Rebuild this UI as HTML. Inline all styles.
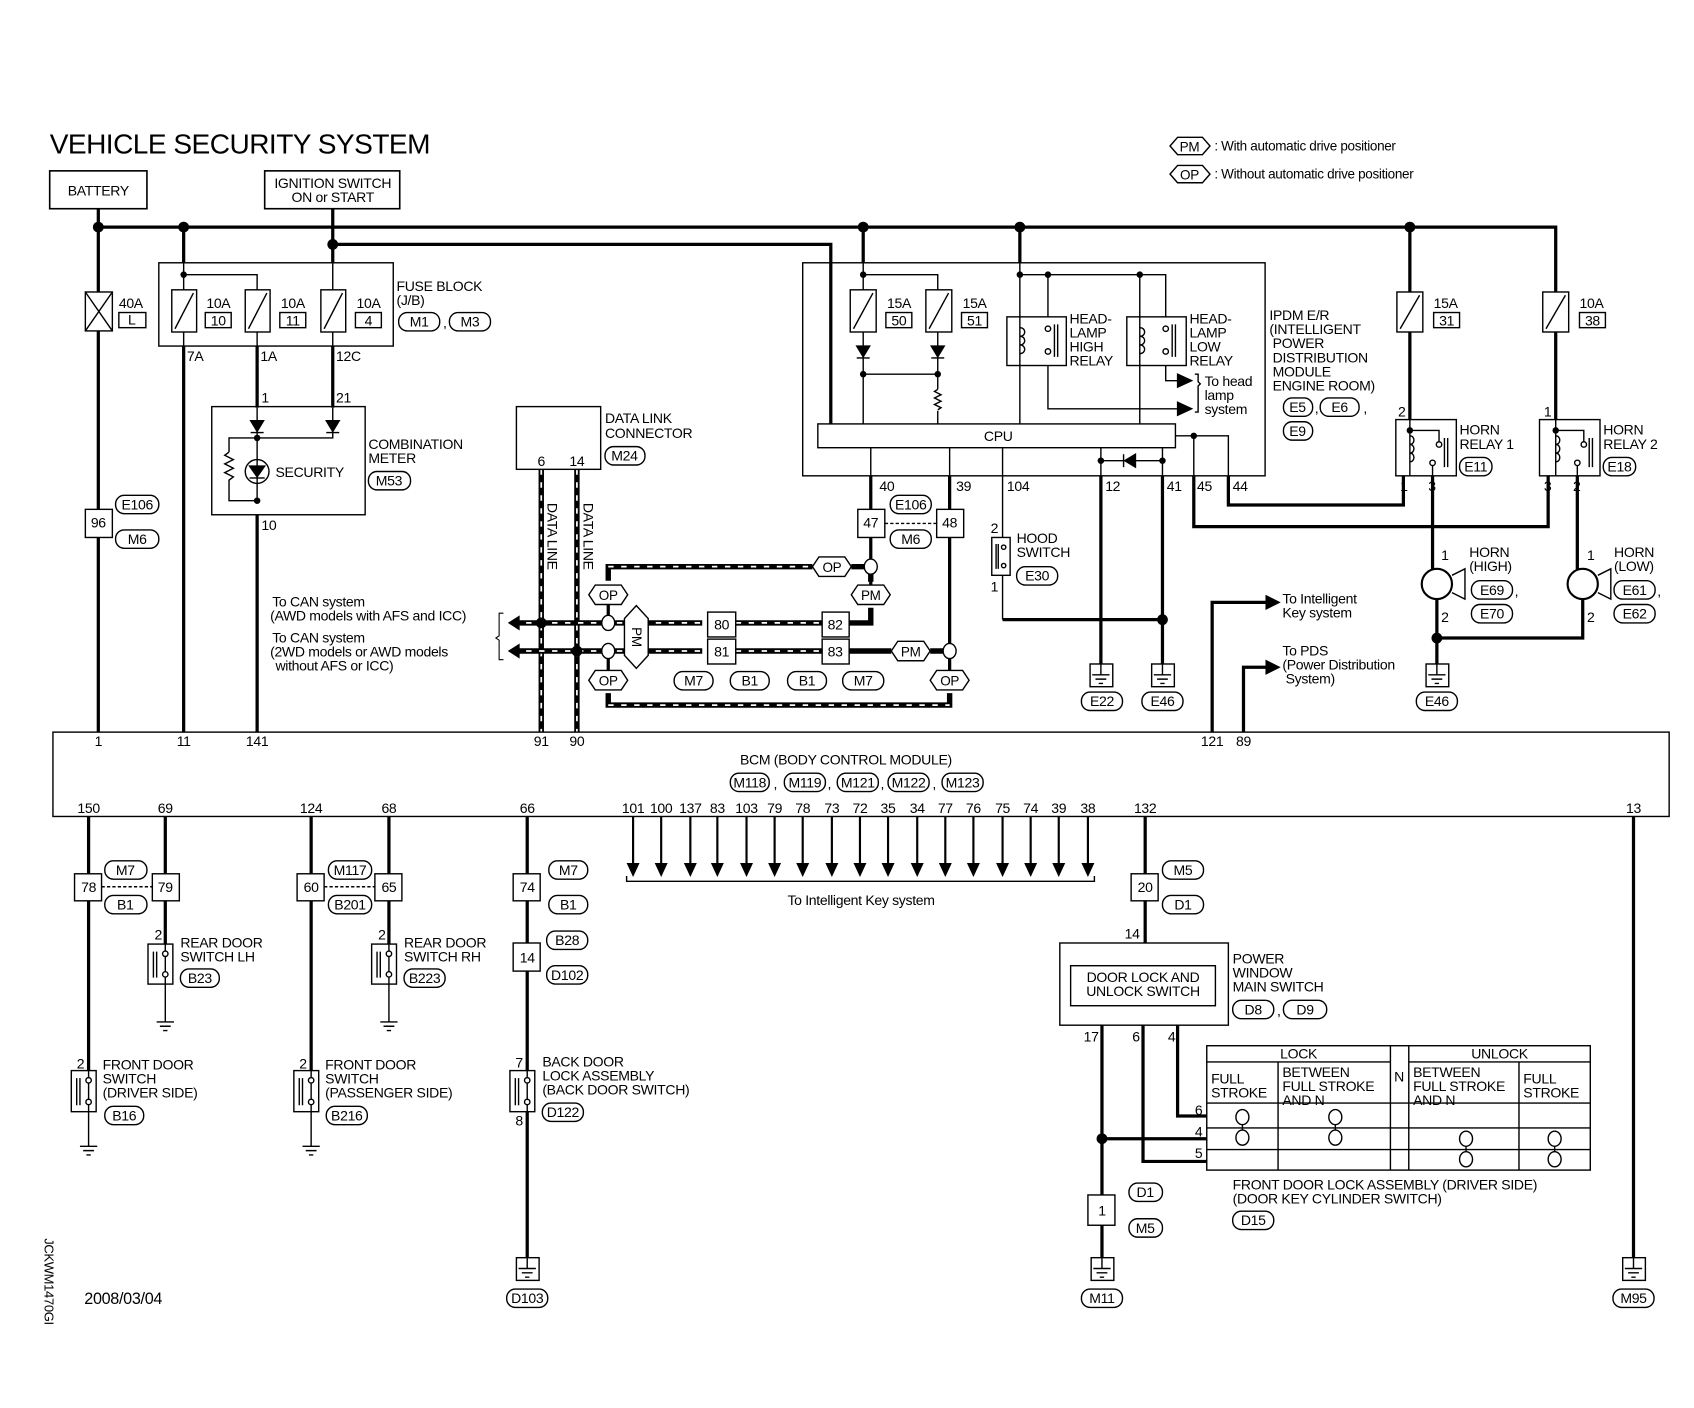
<!DOCTYPE html>
<html><head><meta charset="utf-8"><style>
html,body{margin:0;padding:0;background:#fff;}
svg{display:block}
text{font-family:"Liberation Sans",sans-serif;font-size:13px;fill:#000;letter-spacing:-0.3px}
.t{font-size:12.5px}
.m{text-anchor:middle}
</style></head><body>
<svg width="1694" height="1408" viewBox="0 0 1568 1302" preserveAspectRatio="none" xmlns="http://www.w3.org/2000/svg">
<text x="46" y="142" style="font-size:26px;letter-spacing:-0.5px">VEHICLE SECURITY SYSTEM</text>
<g fill="none" stroke="#000" stroke-width="1.3">
<polygon points="1083,135 1090,127 1113,127 1120,135 1113,143 1090,143"/>
<polygon points="1083,161 1090,153 1113,153 1120,161 1113,169 1090,169"/>
</g>
<text x="1101" y="140" class="m t">PM</text><text x="1124" y="139" class="t">: With automatic drive positioner</text>
<text x="1101" y="166" class="m t">OP</text><text x="1124" y="165" class="t">: Without automatic drive positioner</text>

<g fill="none" stroke="#000" stroke-width="1.5">
<rect x="46" y="158" width="90" height="35"/>
<rect x="245" y="158" width="125" height="35"/>
</g>
<text x="91" y="181" class="m">BATTERY</text>
<text x="308" y="174" class="m">IGNITION SWITCH</text>
<text x="308" y="187" class="m">ON or START</text>

<g fill="none" stroke="#000" stroke-width="3">
<path d="M91,193 V677"/>
<path d="M91,210 H1440 V270"/>
<path d="M308,193 V243"/>
<path d="M308,226 H769 V392"/>
<path d="M170,210 V243"/>
<path d="M170,320 V677"/>
<path d="M238,320 V377"/>
<path d="M308,320 V377"/>
<path d="M238,476 V677"/>
<path d="M799,210 V243"/>
<path d="M944,210 V243"/>
<path d="M1305,210 V270"/>
<path d="M1305,307 V388"/>
<path d="M1440,307 V388"/>
<path d="M1137,440 V467 H1299 V440"/>
<path d="M1105,440 V487 H1433 V440"/>
<path d="M1326,440 V527"/>
<path d="M1460,440 V527"/>
<path d="M1330,553 V614"/>
<path d="M1465,553 V590 H1330"/>
<path d="M1019,440 V614"/>
<path d="M1076,440 V614"/>
<path d="M928,573 H1076"/>
<path d="M1122,677 V557 H1172"/>
<path d="M1151,677 V617 H1172"/>
<path d="M82,755 V990"/>
<path d="M153,755 V873"/>
<path d="M288,755 V990"/>
<path d="M360,755 V873"/>
<path d="M488,755 V990"/>
<path d="M488,1028 V1163"/>
<path d="M1060,755 V872"/>
<path d="M1020,948 V1163"/>
<path d="M1058,948 V1074 H1117"/>
<path d="M1090,948 V1032 H1117"/>
<path d="M1020,1053 H1117"/>
<path d="M1512,755 V1163"/>
<path d="M806,440 V524"/>
<path d="M879,440 V602"/>
</g>

<g fill="none" stroke-width="5">
<path d="M501,434 V677 M534,434 V677" stroke="#000"/>
<path d="M501,434 V677 M534,434 V677" stroke="#fff" stroke-width="1.6" stroke-dasharray="5,7"/>
<path d="M475,576 H650 M681,576 H761 M786,576 H806 V562 M806,538 V530" stroke="#000"/>
<path d="M475,602 H650 M681,602 H761 M786,602 H825 M861,602 H873" stroke="#000"/>
<path d="M563,537 V524 H752 M788,524 H800 M563,641 V652 H879 V641" stroke="#000"/>
<g stroke="#fff" stroke-width="1.6" stroke-dasharray="5,7">
<path d="M475,576 H650 M681,576 H761 M563,524 H752 M563,652 H879 M475,602 H650 M681,602 H761"/>
</g>
</g>
<g fill="#000">
<polygon points="470,576 481,569 481,583"/>
<polygon points="470,602 481,595 481,609"/>
</g>
<path d="M466,567 h-4 v21 l-3,2 l3,2 v18 h4" fill="none" stroke="#000" stroke-width="1"/>

<g fill="#000">
<circle cx="91" cy="210" r="5"/><circle cx="170" cy="210" r="5"/><circle cx="308" cy="226" r="5"/>
<circle cx="799" cy="210" r="5"/><circle cx="944" cy="210" r="5"/><circle cx="1305" cy="210" r="5"/>
<circle cx="501" cy="576" r="5"/><circle cx="534" cy="602" r="5"/>
<circle cx="1076" cy="573" r="5"/><circle cx="1330" cy="590" r="5"/><circle cx="1020" cy="1053" r="5"/>
<circle cx="170" cy="254" r="3"/><circle cx="238" cy="405" r="3"/><circle cx="238" cy="463" r="3"/>
<circle cx="799" cy="254" r="3"/><circle cx="799" cy="346" r="3"/><circle cx="868" cy="346" r="3"/>
<circle cx="944" cy="254" r="3"/><circle cx="970" cy="254" r="3"/><circle cx="1055" cy="254" r="3"/>
<circle cx="1019" cy="426" r="3"/><circle cx="1076" cy="426" r="3"/><circle cx="1105" cy="403" r="3"/>
<circle cx="1305" cy="398" r="3"/><circle cx="1440" cy="398" r="3"/>
</g>

<g fill="none" stroke="#000" stroke-width="1.3">
<rect x="79" y="270" width="25" height="36" fill="#fff"/><path d="M79,270 L104,306 M104,270 L79,306"/>
<rect x="110" y="289" width="25" height="14"/>
<rect x="147" y="243" width="217" height="77"/>
<path d="M170,254 H238 V268 M170,243 V268 M170,307 V320 M238,307 V320 M308,243 V268 M308,307 V320"/>
<rect x="159" y="268" width="23" height="39"/><path d="M162,304 L179,271"/>
<rect x="227" y="268" width="23" height="39"/><path d="M230,304 L247,271"/>
<rect x="297" y="268" width="23" height="39"/><path d="M300,304 L317,271"/>
<rect x="190" y="289" width="24" height="14"/><rect x="259" y="289" width="24" height="14"/><rect x="329" y="289" width="24" height="14"/>
<rect x="196" y="376" width="142" height="100"/>
<path d="M238,377 V463 M308,377 V405 H212 V418 M212,448 V463 H238"/>
<path d="M212,418 l-4,3 l8,4 l-8,4 l8,4 l-8,4 l8,4 l-4,3 V448"/>
<circle cx="238" cy="436" r="11"/>
<rect x="478" y="376" width="78" height="58"/>
<rect x="743" y="243" width="428" height="197"/>
<path d="M799,243 V268 M799,254 H868 V268 M799,307 V392 M868,307 V360 M868,380 V392 M799,346 H868"/>
<path d="M868,360 l-3,2 l6,3 l-6,3 l6,3 l-6,3 l6,3 l-3,2"/>
<rect x="787" y="268" width="24" height="39"/><path d="M790,304 L808,271"/>
<rect x="857" y="268" width="24" height="39"/><path d="M860,304 L878,271"/>
<rect x="820" y="289" width="24" height="14"/><rect x="890" y="289" width="24" height="14"/>
<path d="M944,243 V392 M944,254 H1079 V293 M970,254 V293 M970,338 V378 H1090 M1055,254 V392 M1079,338 V352 H1090"/>
<rect x="932" y="293" width="55" height="45"/><rect x="1043" y="293" width="55" height="45"/>
<path d="M944,303 c6,0 6,8 0,8 c6,0 6,8 0,8 c6,0 6,8 0,8"/>
<path d="M1055,303 c6,0 6,8 0,8 c6,0 6,8 0,8 c6,0 6,8 0,8"/>
<circle cx="970" cy="304" r="2.5"/><circle cx="970" cy="325" r="2.5"/><path d="M976,300 V330 M979,300 V330"/>
<circle cx="1079" cy="304" r="2.5"/><circle cx="1079" cy="325" r="2.5"/><path d="M1085,300 V330 M1088,300 V330"/>
<path d="M1106,346 h3 v7 l2,2 l-2,2 v24 h-3"/>
<rect x="757" y="392" width="331" height="22" fill="#fff"/>
<path d="M806,414 V440 M879,414 V440 M928,414 V497 M1019,414 V440 M1076,414 V440 M1019,426 H1076 M1088,403 H1137 V440 M1105,403 V440"/>
<path d="M928,532 V573"/>
<rect x="918" y="497" width="17" height="35"/><path d="M922,503 V526 M924,503 V526"/><circle cx="929" cy="506" r="2"/><circle cx="929" cy="523" r="2"/>
<rect x="1292" y="388" width="56" height="52"/><rect x="1425" y="388" width="56" height="52"/>
<path d="M1305,388 V440 M1305,398 H1332 V408 M1326,440 V430"/>
<path d="M1440,388 V440 M1440,398 H1466 V408 M1460,440 V430"/>
<path d="M1305,403 c5,0 5,8 0,8 c5,0 5,8 0,8 c5,0 5,8 0,8"/>
<path d="M1440,403 c5,0 5,8 0,8 c5,0 5,8 0,8 c5,0 5,8 0,8"/>
<circle cx="1332" cy="411" r="2.5"/><circle cx="1326" cy="428" r="2.5"/><path d="M1337,405 V432 M1340,405 V432"/>
<circle cx="1466" cy="411" r="2.5"/><circle cx="1460" cy="428" r="2.5"/><path d="M1471,405 V432 M1474,405 V432"/>
<rect x="1293" y="270" width="24" height="37" fill="#fff"/><path d="M1296,304 L1314,273"/>
<rect x="1428" y="270" width="24" height="37" fill="#fff"/><path d="M1431,304 L1449,273"/>
<rect x="1327" y="289" width="24" height="14"/><rect x="1462" y="289" width="24" height="14"/>
<circle cx="1330" cy="540" r="14" stroke-width="2"/><path d="M1344,532 l12,-6 v28 l-12,-6"/>
<circle cx="1465" cy="540" r="14" stroke-width="2"/><path d="M1479,532 l12,-6 v28 l-12,-6"/>
<rect x="1009" y="614" width="21" height="21"/><path d="M1019,614 V624 M1011,624 H1027 M1014,628 H1024 M1017,632 H1021"/>
<rect x="1066" y="614" width="21" height="21"/><path d="M1076,614 V624 M1068,624 H1084 M1071,628 H1081 M1074,632 H1078"/>
<rect x="1320" y="614" width="21" height="21"/><path d="M1330,614 V624 M1322,624 H1338 M1325,628 H1335 M1328,632 H1332"/>
<rect x="478" y="1163" width="21" height="21"/><path d="M488,1163 V1173 M480,1173 H496 M483,1177 H493 M486,1181 H490"/>
<rect x="1010" y="1163" width="21" height="21"/><path d="M1020,1163 V1173 M1012,1173 H1028 M1015,1177 H1025 M1018,1181 H1022"/>
<rect x="1502" y="1163" width="21" height="21"/><path d="M1512,1163 V1173 M1504,1173 H1520 M1507,1177 H1517 M1510,1181 H1514"/>
<rect x="49" y="677" width="1496" height="78"/>
<path d="M580,810 v5 H1013 v-5"/>
<rect x="79" y="471" width="25" height="26" fill="#fff"/>
<rect x="794" y="471" width="25" height="26" fill="#fff"/><rect x="867" y="471" width="25" height="26" fill="#fff"/>
<path d="M819,484 H867" stroke-dasharray="3,2"/>
<rect x="655" y="566" width="26" height="23" fill="#fff"/><rect x="655" y="591" width="26" height="23" fill="#fff"/>
<rect x="761" y="566" width="25" height="23" fill="#fff"/><rect x="761" y="591" width="25" height="23" fill="#fff"/>
<rect x="69" y="808" width="25" height="25" fill="#fff"/><rect x="141" y="808" width="25" height="25" fill="#fff"/>
<path d="M94,820 H141" stroke-dasharray="3,2"/>
<rect x="275" y="808" width="25" height="25" fill="#fff"/><rect x="347" y="808" width="25" height="25" fill="#fff"/>
<path d="M300,820 H347" stroke-dasharray="3,2"/>
<rect x="475" y="808" width="25" height="25" fill="#fff"/><rect x="475" y="872" width="25" height="26" fill="#fff"/>
<rect x="1047" y="808" width="25" height="25" fill="#fff"/>
<rect x="1007" y="1105" width="25" height="28" fill="#fff"/>
<path d="M153,910 V945 M145,945 H161 M148,949 H158 M151,953 H155"/>
<path d="M360,910 V945 M352,945 H368 M355,949 H365 M358,953 H362"/>
<path d="M82,1028 V1060 M74,1060 H90 M77,1064 H87 M80,1068 H84"/>
<path d="M288,1028 V1060 M280,1060 H296 M283,1064 H293 M286,1068 H290"/>
<rect x="137" y="873" width="23" height="37"/><rect x="344" y="873" width="23" height="37"/>
<rect x="66" y="990" width="23" height="38"/><rect x="272" y="990" width="23" height="38"/><rect x="472" y="990" width="23" height="38"/>
<path d="M153,873 V910 M360,873 V910 M82,990 V1028 M288,990 V1028 M488,990 V1028"/>
<g fill="#fff">
<circle cx="153" cy="882" r="2.5"/><circle cx="153" cy="901" r="2.5"/>
<circle cx="360" cy="882" r="2.5"/><circle cx="360" cy="901" r="2.5"/>
<circle cx="82" cy="999" r="2.5"/><circle cx="82" cy="1019" r="2.5"/>
<circle cx="288" cy="999" r="2.5"/><circle cx="288" cy="1019" r="2.5"/>
<circle cx="488" cy="999" r="2.5"/><circle cx="488" cy="1019" r="2.5"/>
</g>
<path d="M142,880 V904 M145,880 V904 M349,880 V904 M352,880 V904 M71,997 V1022 M74,997 V1022 M277,997 V1022 M280,997 V1022 M477,997 V1022 M480,997 V1022"/>
<rect x="981" y="872" width="156" height="76"/><rect x="991" y="893" width="134" height="37"/>
<rect x="1117" y="967" width="355" height="115"/>
<path d="M1117,982 H1287 M1304,982 H1472 M1117,1020 H1472 M1117,1043 H1472 M1117,1063 H1472 M1183,982 V1082 M1287,967 V1082 M1304,967 V1082 M1406,982 V1082"/>
</g>
<g fill="none" stroke="#000" stroke-width="1.3">
<ellipse cx="1150" cy="1033" rx="6" ry="7"/><ellipse cx="1150" cy="1052" rx="6" ry="7"/><path d="M1150,1040 V1045"/>
<ellipse cx="1236" cy="1033" rx="6" ry="7"/><ellipse cx="1236" cy="1052" rx="6" ry="7"/><path d="M1236,1040 V1045"/>
<ellipse cx="1357" cy="1053" rx="6" ry="7"/><ellipse cx="1357" cy="1072" rx="6" ry="7"/><path d="M1357,1060 V1065"/>
<ellipse cx="1439" cy="1053" rx="6" ry="7"/><ellipse cx="1439" cy="1072" rx="6" ry="7"/><path d="M1439,1060 V1065"/>
</g>
<g fill="#000" stroke="#000" stroke-width="1.3">
<polygon points="232,389 244,389 238,399"/><path d="M232,400 H244"/>
<polygon points="302,389 314,389 308,399"/><path d="M302,400 H314"/>
<polygon points="231,431 245,431 238,441"/><path d="M231,442 H245"/>
<polygon points="793,320 805,320 799,330"/><path d="M793,331 H805"/>
<polygon points="862,320 874,320 868,330"/><path d="M862,331 H874"/>
<polygon points="1041,426 1051,420 1051,432"/><path d="M1040,420 V432"/>
<polygon points="1090,346 1103,352 1090,358"/><polygon points="1090,372 1103,378 1090,384"/>
<polygon points="1172,551 1184,557 1172,563"/><polygon points="1172,611 1184,617 1172,623"/>
</g>
<g stroke="#000" stroke-width="2" fill="#000">
<path d="M586,755 V800 M612,755 V800 M639,755 V800 M664,755 V800 M691,755 V800 M717,755 V800 M743,755 V800 M770,755 V800 M796,755 V800 M822,755 V800 M849,755 V800 M875,755 V800 M901,755 V800 M928,755 V800 M954,755 V800 M980,755 V800 M1007,755 V800"/>
</g>
<g fill="#000">
<polygon points="580,798 592,798 586,811"/><polygon points="606,798 618,798 612,811"/><polygon points="633,798 645,798 639,811"/><polygon points="658,798 670,798 664,811"/><polygon points="685,798 697,798 691,811"/><polygon points="711,798 723,798 717,811"/><polygon points="737,798 749,798 743,811"/><polygon points="764,798 776,798 770,811"/><polygon points="790,798 802,798 796,811"/><polygon points="816,798 828,798 822,811"/><polygon points="843,798 855,798 849,811"/><polygon points="869,798 881,798 875,811"/><polygon points="895,798 907,798 901,811"/><polygon points="922,798 934,798 928,811"/><polygon points="948,798 960,798 954,811"/><polygon points="974,798 986,798 980,811"/><polygon points="1001,798 1013,798 1007,811"/>
</g>

<g fill="#fff" stroke="#000" stroke-width="1.3">
<polygon points="752,524 758,515 782,515 788,524 782,533 758,533"/>
<polygon points="788,550 794,541 818,541 824,550 818,559 794,559"/>
<polygon points="545,550 551,541 575,541 581,550 575,559 551,559"/>
<polygon points="545,629 551,620 575,620 581,629 575,638 551,638"/>
<polygon points="825,602 831,593 855,593 861,602 855,611 831,611"/>
<polygon points="861,629 867,620 891,620 897,629 891,638 867,638"/>
<polygon points="589,560 600,572 600,606 589,618 578,606 578,572"/>
<ellipse cx="806" cy="524" rx="6" ry="7"/>
<ellipse cx="563" cy="576" rx="6" ry="7"/><ellipse cx="563" cy="602" rx="6" ry="7"/>
<ellipse cx="879" cy="602" rx="6" ry="7"/>
</g>
<g fill="none" stroke="#000" stroke-width="3"><path d="M563,559 V569 M563,609 V620 M879,609 V620 M806,531 V541"/></g>
<text x="770" y="529" class="m t">OP</text><text x="806" y="555" class="m t">PM</text>
<text x="563" y="555" class="m t">OP</text><text x="563" y="634" class="m t">OP</text>
<text x="843" y="607" class="m t">PM</text><text x="879" y="634" class="m t">OP</text>
<text x="0" y="0" class="m t" transform="translate(585,589) rotate(90)">PM</text>

<g fill="none" stroke="#000" stroke-width="1.3">
<rect x="369" y="289" width="38" height="17" rx="8"/><rect x="416" y="289" width="38" height="17" rx="8"/>
<rect x="341" y="436" width="39" height="17" rx="8"/><rect x="560" y="413" width="37" height="17" rx="8"/>
<rect x="107" y="458" width="40" height="17" rx="8"/><rect x="107" y="490" width="40" height="17" rx="8"/>
<rect x="824" y="458" width="38" height="17" rx="8"/><rect x="824" y="490" width="38" height="17" rx="8"/>
<rect x="624" y="621" width="36" height="17" rx="8"/><rect x="676" y="621" width="36" height="17" rx="8"/>
<rect x="729" y="621" width="36" height="17" rx="8"/><rect x="780" y="621" width="38" height="17" rx="8"/>
<rect x="1188" y="368" width="27" height="17" rx="8"/><rect x="1222" y="368" width="36" height="17" rx="8"/>
<rect x="1188" y="390" width="27" height="17" rx="8"/>
<rect x="941" y="524" width="38" height="17" rx="8"/>
<rect x="1351" y="423" width="30" height="17" rx="8"/><rect x="1484" y="423" width="30" height="17" rx="8"/>
<rect x="1362" y="537" width="38" height="17" rx="8"/><rect x="1362" y="559" width="38" height="17" rx="8"/>
<rect x="1494" y="537" width="38" height="17" rx="8"/><rect x="1494" y="559" width="38" height="17" rx="8"/>
<rect x="1001" y="640" width="38" height="17" rx="8"/><rect x="1057" y="640" width="38" height="17" rx="8"/>
<rect x="1311" y="640" width="38" height="17" rx="8"/>
<rect x="676" y="715" width="36" height="17" rx="8"/><rect x="726" y="715" width="38" height="17" rx="8"/>
<rect x="775" y="715" width="38" height="17" rx="8"/><rect x="822" y="715" width="38" height="17" rx="8"/>
<rect x="872" y="715" width="38" height="17" rx="8"/>
<rect x="97" y="796" width="39" height="17" rx="8"/><rect x="97" y="828" width="39" height="17" rx="8"/>
<rect x="304" y="796" width="40" height="17" rx="8"/><rect x="304" y="828" width="40" height="17" rx="8"/>
<rect x="508" y="796" width="36" height="17" rx="8"/><rect x="508" y="828" width="36" height="17" rx="8"/>
<rect x="506" y="861" width="38" height="17" rx="8"/><rect x="506" y="893" width="38" height="17" rx="8"/>
<rect x="167" y="896" width="36" height="17" rx="8"/><rect x="374" y="896" width="38" height="17" rx="8"/>
<rect x="97" y="1023" width="36" height="17" rx="8"/><rect x="302" y="1023" width="38" height="17" rx="8"/>
<rect x="502" y="1020" width="38" height="17" rx="8"/>
<rect x="469" y="1192" width="38" height="17" rx="8"/><rect x="1001" y="1192" width="38" height="17" rx="8"/>
<rect x="1493" y="1192" width="38" height="17" rx="8"/>
<rect x="1076" y="796" width="38" height="17" rx="8"/><rect x="1076" y="828" width="38" height="17" rx="8"/>
<rect x="1141" y="925" width="38" height="17" rx="8"/><rect x="1188" y="925" width="40" height="17" rx="8"/>
<rect x="1045" y="1094" width="31" height="17" rx="8"/><rect x="1045" y="1127" width="31" height="17" rx="8"/>
<rect x="1141" y="1120" width="38" height="17" rx="8"/>
</g>

<g class="t">
<text x="110" y="285">40A</text><text x="122" y="300" class="m">L</text>
<text x="191" y="285">10A</text><text x="202" y="301" class="m">10</text>
<text x="260" y="285">10A</text><text x="271" y="301" class="m">11</text>
<text x="330" y="285">10A</text><text x="341" y="301" class="m">4</text>
<text x="367" y="269">FUSE BLOCK</text><text x="367" y="282">(J/B)</text>
<text x="388" y="302" class="m">M1</text><text x="410" y="303">,</text><text x="435" y="302" class="m">M3</text>
<text x="173" y="334">7A</text><text x="241" y="334">1A</text><text x="311" y="334">12C</text>
<text x="242" y="372">1</text><text x="311" y="372">21</text><text x="242" y="490">10</text>
<text x="255" y="441">SECURITY</text>
<text x="341" y="415">COMBINATION</text><text x="341" y="428">METER</text>
<text x="360" y="449" class="m">M53</text>
<text x="501" y="431" class="m">6</text><text x="534" y="431" class="m">14</text>
<text x="560" y="391">DATA LINK</text><text x="560" y="405">CONNECTOR</text>
<text x="578" y="426" class="m">M24</text>
<text x="0" y="0" transform="translate(507,465) rotate(90)">DATA LINE</text>
<text x="0" y="0" transform="translate(540,465) rotate(90)">DATA LINE</text>
<text x="91" y="488" class="m">96</text><text x="127" y="471" class="m">E106</text><text x="127" y="503" class="m">M6</text>
<text x="806" y="488" class="m">47</text><text x="879" y="488" class="m">48</text>
<text x="843" y="471" class="m">E106</text><text x="843" y="503" class="m">M6</text>
<text x="252" y="561">To CAN system</text><text x="250" y="574">(AWD models with AFS and ICC)</text>
<text x="252" y="594">To CAN system</text><text x="250" y="607">(2WD models or AWD models</text><text x="255" y="620">without AFS or ICC)</text>
<text x="668" y="582" class="m">80</text><text x="668" y="607" class="m">81</text>
<text x="773" y="582" class="m">82</text><text x="773" y="607" class="m">83</text>
<text x="642" y="634" class="m">M7</text><text x="694" y="634" class="m">B1</text><text x="747" y="634" class="m">B1</text><text x="799" y="634" class="m">M7</text>
<text x="821" y="285">15A</text><text x="832" y="301" class="m">50</text>
<text x="891" y="285">15A</text><text x="902" y="301" class="m">51</text>
<text x="990" y="299">HEAD-</text><text x="990" y="312">LAMP</text><text x="990" y="325">HIGH</text><text x="990" y="338">RELAY</text>
<text x="1101" y="299">HEAD-</text><text x="1101" y="312">LAMP</text><text x="1101" y="325">LOW</text><text x="1101" y="338">RELAY</text>
<text x="1115" y="357">To head</text><text x="1115" y="370">lamp</text><text x="1115" y="383">system</text>
<text x="924" y="408" class="m">CPU</text>
<text x="1175" y="296">IPDM E/R</text><text x="1175" y="309">(INTELLIGENT</text><text x="1178" y="322">POWER</text><text x="1178" y="335">DISTRIBUTION</text><text x="1178" y="348">MODULE</text><text x="1178" y="361">ENGINE ROOM)</text>
<text x="1201" y="381" class="m">E5</text><text x="1217" y="382">,</text><text x="1240" y="381" class="m">E6</text><text x="1262" y="382">,</text>
<text x="1201" y="403" class="m">E9</text>
<text x="814" y="454">40</text><text x="885" y="454">39</text><text x="932" y="454">104</text><text x="1023" y="454">12</text><text x="1080" y="454">41</text><text x="1108" y="454">45</text><text x="1141" y="454">44</text>
<text x="1327" y="285">15A</text><text x="1339" y="301" class="m">31</text>
<text x="1462" y="285">10A</text><text x="1474" y="301" class="m">38</text>
<text x="1294" y="385">2</text><text x="1429" y="385">1</text>
<text x="1296" y="454">1</text><text x="1322" y="454">3</text><text x="1429" y="454">3</text><text x="1456" y="454">2</text>
<text x="1351" y="402">HORN</text><text x="1351" y="415">RELAY 1</text><text x="1366" y="436" class="m">E11</text>
<text x="1484" y="402">HORN</text><text x="1484" y="415">RELAY 2</text><text x="1499" y="436" class="m">E18</text>
<text x="1334" y="518">1</text><text x="1469" y="518">1</text>
<text x="1334" y="575">2</text><text x="1469" y="575">2</text>
<text x="1360" y="515">HORN</text><text x="1360" y="528">(HIGH)</text>
<text x="1381" y="550" class="m">E69</text><text x="1402" y="551">,</text><text x="1381" y="572" class="m">E70</text>
<text x="1494" y="515">HORN</text><text x="1494" y="528">(LOW)</text>
<text x="1513" y="550" class="m">E61</text><text x="1534" y="551">,</text><text x="1513" y="572" class="m">E62</text>
<text x="917" y="493">2</text><text x="917" y="547">1</text>
<text x="941" y="502">HOOD</text><text x="941" y="515">SWITCH</text><text x="960" y="537" class="m">E30</text>
<text x="1020" y="653" class="m">E22</text><text x="1076" y="653" class="m">E46</text><text x="1330" y="653" class="m">E46</text>
<text x="1187" y="558">To Intelligent</text><text x="1187" y="571">Key system</text>
<text x="1187" y="606">To PDS</text><text x="1187" y="619">(Power Distribution</text><text x="1190" y="632">System)</text>
<text x="91" y="690" class="m">1</text><text x="170" y="690" class="m">11</text><text x="238" y="690" class="m">141</text>
<text x="501" y="690" class="m">91</text><text x="534" y="690" class="m">90</text><text x="1122" y="690" class="m">121</text><text x="1151" y="690" class="m">89</text>
<text x="783" y="707" class="m">BCM (BODY CONTROL MODULE)</text>
<text x="694" y="728" class="m">M118</text><text x="716" y="729">,</text><text x="745" y="728" class="m">M119</text><text x="766" y="729">,</text>
<text x="794" y="728" class="m">M121</text><text x="815" y="729">,</text><text x="841" y="728" class="m">M122</text><text x="863" y="729">,</text><text x="891" y="728" class="m">M123</text>
<g class="m">
<text x="82" y="752">150</text><text x="153" y="752">69</text><text x="288" y="752">124</text><text x="360" y="752">68</text><text x="488" y="752">66</text>
<text x="586" y="752">101</text><text x="612" y="752">100</text><text x="639" y="752">137</text><text x="664" y="752">83</text><text x="691" y="752">103</text><text x="717" y="752">79</text><text x="743" y="752">78</text><text x="770" y="752">73</text><text x="796" y="752">72</text><text x="822" y="752">35</text><text x="849" y="752">34</text><text x="875" y="752">77</text><text x="901" y="752">76</text><text x="928" y="752">75</text><text x="954" y="752">74</text><text x="980" y="752">39</text><text x="1007" y="752">38</text>
<text x="1060" y="752">132</text><text x="1512" y="752">13</text>
</g>
<text x="797" y="837" class="m">To Intelligent Key system</text>
<text x="82" y="825" class="m">78</text><text x="153" y="825" class="m">79</text><text x="116" y="809" class="m">M7</text><text x="116" y="841" class="m">B1</text>
<text x="288" y="825" class="m">60</text><text x="360" y="825" class="m">65</text><text x="324" y="809" class="m">M117</text><text x="324" y="841" class="m">B201</text>
<text x="488" y="825" class="m">74</text><text x="526" y="809" class="m">M7</text><text x="526" y="841" class="m">B1</text>
<text x="488" y="890" class="m">14</text><text x="525" y="874" class="m">B28</text><text x="525" y="906" class="m">D102</text>
<text x="143" y="869">2</text><text x="350" y="869">2</text>
<text x="167" y="876">REAR DOOR</text><text x="167" y="889">SWITCH LH</text><text x="185" y="909" class="m">B23</text>
<text x="374" y="876">REAR DOOR</text><text x="374" y="889">SWITCH RH</text><text x="393" y="909" class="m">B223</text>
<text x="71" y="988">2</text><text x="277" y="988">2</text><text x="477" y="987">7</text><text x="477" y="1041">8</text>
<text x="95" y="989">FRONT DOOR</text><text x="95" y="1002">SWITCH</text><text x="95" y="1015">(DRIVER SIDE)</text><text x="115" y="1036" class="m">B16</text>
<text x="301" y="989">FRONT DOOR</text><text x="301" y="1002">SWITCH</text><text x="301" y="1015">(PASSENGER SIDE)</text><text x="321" y="1036" class="m">B216</text>
<text x="502" y="986">BACK DOOR</text><text x="502" y="999">LOCK ASSEMBLY</text><text x="502" y="1012">(BACK DOOR SWITCH)</text><text x="521" y="1033" class="m">D122</text>
<text x="488" y="1205" class="m">D103</text><text x="1020" y="1205" class="m">M11</text><text x="1512" y="1205" class="m">M95</text>
<text x="1060" y="825" class="m">20</text><text x="1095" y="809" class="m">M5</text><text x="1095" y="841" class="m">D1</text>
<text x="1041" y="868">14</text>
<text x="1058" y="908" class="m">DOOR LOCK AND</text><text x="1058" y="921" class="m">UNLOCK SWITCH</text>
<text x="1141" y="891">POWER</text><text x="1141" y="904">WINDOW</text><text x="1141" y="917">MAIN SWITCH</text>
<text x="1160" y="938" class="m">D8</text><text x="1182" y="939">,</text><text x="1208" y="938" class="m">D9</text>
<text x="1003" y="963">17</text><text x="1048" y="963">6</text><text x="1081" y="963">4</text>
<text x="1106" y="1031">6</text><text x="1106" y="1051">4</text><text x="1106" y="1071">5</text>
<text x="1202" y="979" class="m">LOCK</text><text x="1295" y="1000" class="m">N</text><text x="1388" y="979" class="m">UNLOCK</text>
<text x="1121" y="1002">FULL</text><text x="1121" y="1015">STROKE</text>
<text x="1187" y="996">BETWEEN</text><text x="1187" y="1009">FULL STROKE</text><text x="1187" y="1022">AND N</text>
<text x="1308" y="996">BETWEEN</text><text x="1308" y="1009">FULL STROKE</text><text x="1308" y="1022">AND N</text>
<text x="1410" y="1002">FULL</text><text x="1410" y="1015">STROKE</text>
<text x="1141" y="1100">FRONT DOOR LOCK ASSEMBLY (DRIVER SIDE)</text><text x="1141" y="1113">(DOOR KEY CYLINDER SWITCH)</text>
<text x="1160" y="1133" class="m">D15</text>
<text x="1020" y="1124" class="m">1</text><text x="1060" y="1107" class="m">D1</text><text x="1060" y="1140" class="m">M5</text>
</g>
<text x="78" y="1206" style="font-size:15px">2008/03/04</text>
<text x="0" y="0" transform="translate(41,1145) rotate(90)" style="font-size:12px">JCKWM1470GI</text>
</svg>
</body></html>
